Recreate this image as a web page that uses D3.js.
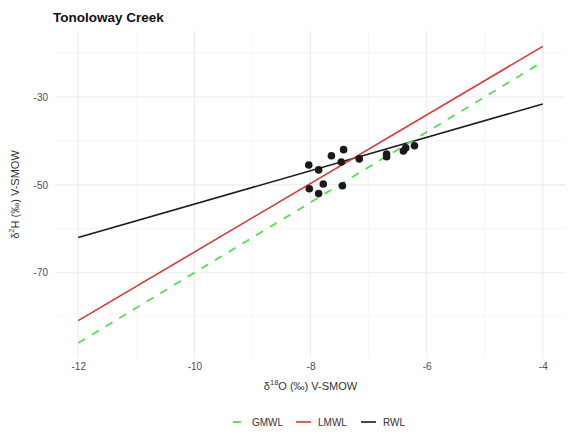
<!DOCTYPE html>
<html>
<head>
<meta charset="utf-8">
<script src="https://cdn.jsdelivr.net/npm/d3@7/dist/d3.min.js"></script>
<style>
  html, body { margin: 0; padding: 0; background: #fff; }
  text { font-family: "Liberation Sans", Arial, sans-serif; }
</style>
</head>
<body>
<svg id="chart" width="571" height="441"></svg>
<script>
// Stream water samples: δ18O and δ2H (‰, V-SMOW)
const sampleD18O = [-8.03, -7.86, -7.64, -7.43, -7.47, -7.16, -6.69, -6.69, -6.40, -6.36, -6.21, -8.02, -7.78, -7.86, -7.45];
const sampleD2H  = [-45.5, -46.6, -43.4, -42.0, -44.8, -44.1, -43.0, -43.6, -42.3, -41.6, -41.1, -50.9, -49.8, -52.0, -50.2];

// Water lines: δ2H = slope * δ18O + intercept
const lineNames      = ["GMWL", "LMWL", "RWL"];
const lineSlopes     = [8.0, 7.8, 3.8];
const lineIntercepts = [10.0, 12.7, -16.4];
const lineSpan       = [-12, -4];

const xTicks = [-12, -10, -8, -6, -4];
const xMinor = [-11, -9, -7, -5];
const yTicks = [-70, -50, -30];
const yMinor = [-80, -60, -40, -20];

const lineColors = { GMWL: "#5ddc5d", LMWL: "#d43a3a", RWL: "#1a1a1a" };
const lineDash   = { GMWL: "8,8", LMWL: null, RWL: null };

const svg = d3.select("#chart");
const panel = { left: 55, right: 566, top: 31, bottom: 358 };

const x = d3.scaleLinear().domain([-12.4, -3.6]).range([panel.left, panel.right]);
const y = d3.scaleLinear().domain([-89.4, -15.0]).range([panel.bottom, panel.top]);

// grid
const grid = svg.append("g");
grid.selectAll(".xminor").data(xMinor).join("line")
  .attr("x1", d => x(d)).attr("x2", d => x(d))
  .attr("y1", panel.top).attr("y2", panel.bottom)
  .attr("stroke", "#f0f0f0").attr("stroke-width", 0.6);
grid.selectAll(".yminor").data(yMinor).join("line")
  .attr("y1", d => y(d)).attr("y2", d => y(d))
  .attr("x1", panel.left).attr("x2", panel.right)
  .attr("stroke", "#f0f0f0").attr("stroke-width", 0.6);
grid.selectAll(".xmajor").data(xTicks).join("line")
  .attr("x1", d => x(d)).attr("x2", d => x(d))
  .attr("y1", panel.top).attr("y2", panel.bottom)
  .attr("stroke", "#ebebeb").attr("stroke-width", 1.1);
grid.selectAll(".ymajor").data(yTicks).join("line")
  .attr("y1", d => y(d)).attr("y2", d => y(d))
  .attr("x1", panel.left).attr("x2", panel.right)
  .attr("stroke", "#ebebeb").attr("stroke-width", 1.1);

// axes (labels only)
const xAxis = d3.axisBottom(x).tickValues(xTicks).tickSize(0).tickPadding(0);
const gx = svg.append("g").attr("transform", `translate(0,${panel.bottom + 5})`).call(xAxis);
gx.select(".domain").remove();
gx.selectAll("text").attr("fill", "#4d4d4d").attr("font-size", 10).attr("dy", "0.71em")
  .text(d => String(d));

const yAxis = d3.axisLeft(y).tickValues(yTicks).tickSize(0).tickPadding(0);
const gy = svg.append("g").attr("transform", `translate(${panel.left - 7},0)`).call(yAxis);
gy.select(".domain").remove();
gy.selectAll("text").attr("fill", "#4d4d4d").attr("font-size", 10)
  .text(d => String(d));

// water lines
const lineGen = d3.line().x(d => x(d[0])).y(d => y(d[1]));
const order = ["RWL", "LMWL", "GMWL"];
order.forEach(name => {
  const i = lineNames.indexOf(name);
  const pts = lineSpan.map(v => [v, lineSlopes[i] * v + lineIntercepts[i]]);
  svg.append("path").datum(pts)
    .attr("d", lineGen)
    .attr("fill", "none")
    .attr("stroke", lineColors[name])
    .attr("stroke-width", name === "GMWL" ? 1.9 : 1.6)
    .attr("stroke-dasharray", lineDash[name]);
});

// samples
svg.append("g").selectAll("circle")
  .data(sampleD18O.map((v, i) => [v, sampleD2H[i]]))
  .join("circle")
  .attr("cx", d => x(d[0])).attr("cy", d => y(d[1]))
  .attr("r", 3.8).attr("fill", "#1a1a1a");

// title
svg.append("text").attr("x", 53).attr("y", 22)
  .attr("font-size", 13.5).attr("font-weight", "bold").attr("fill", "#111")
  .text("Tonoloway Creek");

// axis titles
const xt = svg.append("text")
  .attr("x", (panel.left + panel.right) / 2).attr("y", 390)
  .attr("text-anchor", "middle").attr("font-size", 11).attr("fill", "#333");
xt.append("tspan").text("δ");
xt.append("tspan").attr("font-size", 7.5).attr("dy", -5).text("18");
xt.append("tspan").attr("dy", 5).text("O (‰) V-SMOW");

const yt = svg.append("text")
  .attr("transform", `translate(19,${(panel.top + panel.bottom) / 2}) rotate(-90)`)
  .attr("text-anchor", "middle").attr("font-size", 11).attr("fill", "#333");
yt.append("tspan").text("δ");
yt.append("tspan").attr("font-size", 7.5).attr("dy", -5).text("2");
yt.append("tspan").attr("dy", 5).text("H (‰) V-SMOW");

// legend
const legend = svg.append("g").attr("transform", "translate(0,422)");
const legendX = [230, 296, 361];
lineNames.forEach((name, i) => {
  const g = legend.append("g").attr("transform", `translate(${legendX[i]},0)`);
  if (name === "GMWL") {
    g.append("line").attr("x1", 3).attr("x2", 11).attr("y1", 0).attr("y2", 0)
      .attr("stroke", lineColors[name]).attr("stroke-width", 1.9);
  } else {
    g.append("line").attr("x1", 0).attr("x2", 15).attr("y1", 0).attr("y2", 0)
      .attr("stroke", lineColors[name]).attr("stroke-width", 1.6);
  }
  g.append("text").attr("x", 22).attr("y", 0).attr("dy", "0.35em")
    .attr("font-size", 10).attr("fill", "#333").text(name);
});
</script>
</body>
</html>
